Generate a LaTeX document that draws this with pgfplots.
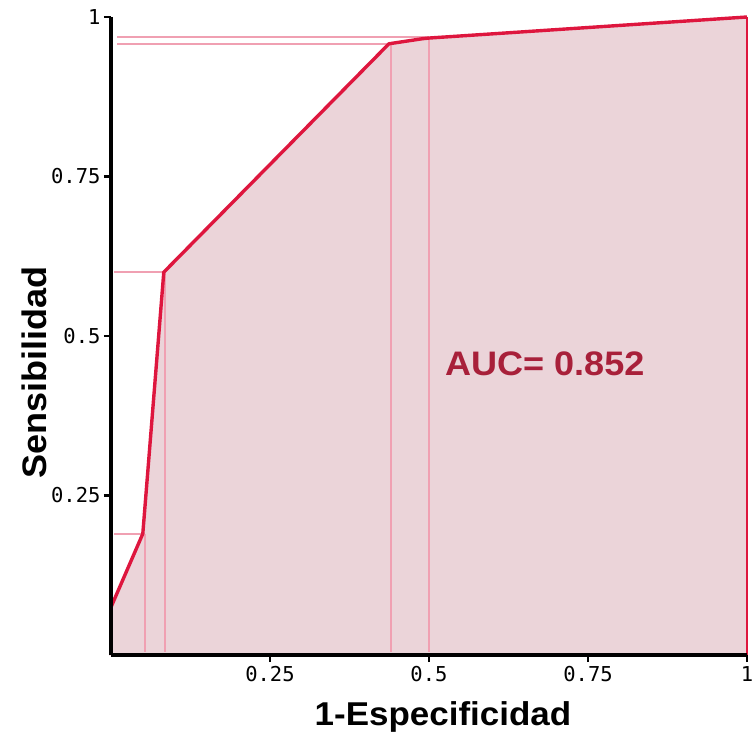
\documentclass[border=0pt]{standalone}
\usepackage{pgfplots}
\pgfplotsset{compat=1.18}
\usepackage{fontspec}
\setmainfont{Liberation Sans}
\newfontfamily\labelfont[FakeStretch=1.06]{Liberation Sans Bold}
\newfontfamily\monofont{DejaVu Sans Mono}
\definecolor{rocline}{RGB}{222,22,62}
\definecolor{rocfill}{RGB}{235,212,217}
\definecolor{refline}{RGB}{240,160,178}
\definecolor{auccol}{RGB}{168,32,58}
\begin{document}
\begin{tikzpicture}
\useasboundingbox (-111pt,-78pt) rectangle (643pt,655pt);
\begin{axis}[
  at={(0,0)}, anchor=south west,
  scale only axis, width=636pt, height=638pt,
  xmin=0, xmax=1, ymin=0, ymax=1,
  axis lines=left, axis on top,
  x axis line style={-, line width=3.2pt, black},
  y axis line style={-, line width=3.2pt, black},
  clip=false,
  xtick={0.25,0.5,0.75,1}, xticklabels={0.25,0.5,0.75,1},
  ytick={0.25,0.5,0.75,1}, yticklabels={0.25,0.5,0.75,1},
  tick align=outside, major tick length=7pt,
  major tick style={line width=2.5pt, black},
  tick label style={font=\monofont\fontsize{20.5}{20.5}\selectfont},
  xticklabel style={yshift=-1pt},
  xlabel={1-Especificidad},
  ylabel={Sensibilidad},
  xlabel style={font=\labelfont\fontsize{33}{33}\selectfont, at={(axis description cs:0.522,-0.097)}, anchor=center},
  ylabel style={font=\labelfont\fontsize{34}{34}\selectfont, at={(axis description cs:-0.12,0.443)}, anchor=center},
]
% filled area under ROC
\addplot[fill=rocfill, draw=none] coordinates {
 (0,0) (0,0.075) (0.05,0.19) (0.083,0.60) (0.437,0.958) (0.49,0.966) (0.5,0.967) (1,1) (1,0)
} -- cycle;
% reference lines
\addplot[refline, line width=2pt] coordinates {(0.005,0.19) (0.05,0.19)};
\addplot[refline, line width=2pt] coordinates {(0.005,0.60) (0.083,0.60)};
\addplot[refline, line width=2pt] coordinates {(0.01,0.958) (0.437,0.958)};
\addplot[refline, line width=2pt] coordinates {(0.01,0.968) (0.5,0.968)};
\addplot[refline, line width=1.6pt] coordinates {(0.053,0.005) (0.053,0.19)};
\addplot[refline, line width=1.6pt] coordinates {(0.085,0.005) (0.085,0.60)};
\addplot[refline, line width=1.6pt] coordinates {(0.44,0.005) (0.44,0.958)};
\addplot[refline, line width=1.6pt] coordinates {(0.5,0.005) (0.5,0.967)};
% ROC curve
\addplot[rocline, line width=3.4pt, line join=round] coordinates {
 (0,0) (0,0.075) (0.05,0.19) (0.083,0.60) (0.437,0.958) (0.49,0.966) (0.5,0.967) (1,1)
};
\addplot[rocline, line width=1.2pt] coordinates {(1,0) (1,1)};
\node[text=auccol, font=\labelfont\fontsize{34}{34}\selectfont] at (axis cs:0.682,0.456) {AUC= 0.852};
\end{axis}
\end{tikzpicture}
\end{document}
